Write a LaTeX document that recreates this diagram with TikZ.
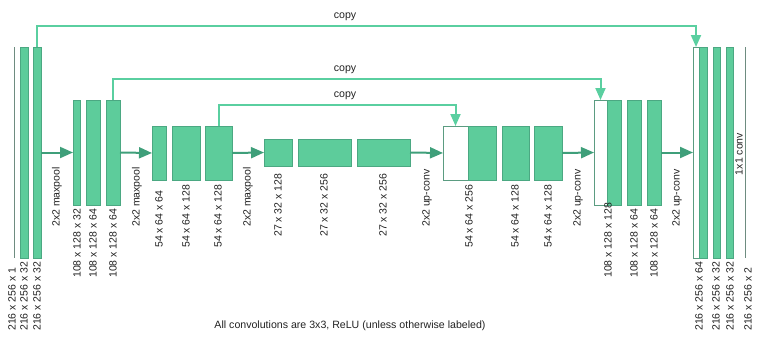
\documentclass[tikz,border=0pt]{standalone}
\usepackage{fontspec}
\setmainfont{Liberation Sans}
\usetikzlibrary{arrows.meta, positioning}
\definecolor{MapGreen}{HTML}{5DCC9B}
\definecolor{EdgeGreen}{HTML}{4BA882}
\definecolor{ArrowGreen}{HTML}{3F9F7A}
\definecolor{CopyGreen}{HTML}{5ACFA0}
\definecolor{ThinGray}{HTML}{6E8C80}
\definecolor{TextGray}{HTML}{222222}

\begin{document}
\begin{tikzpicture}[
    x=1pt, y=-1pt,
    fmap/.style={rectangle, draw=EdgeGreen, fill=MapGreen, line width=0.5pt, inner sep=0pt, outer sep=0pt, anchor=north west},
    catmap/.style={fmap, fill=white, draw=EdgeGreen!70!gray, line width=1pt},
    thinmap/.style={rectangle, fill=ThinGray, inner sep=0pt, outer sep=0pt, minimum width=1.5pt, anchor=north west},
    dimlabel/.style={rotate=90, anchor=west, inner sep=0pt, text=TextGray, font=\fontsize{10.5}{12}\selectfont},
    oplabel/.style={dimlabel},
    copylabel/.style={inner sep=0pt, text=TextGray, font=\fontsize{10.6}{12}\selectfont},
    poolarrow/.style={->, >={Triangle[length=13pt, width=11pt]}, draw=ArrowGreen, line width=2pt},
    copyarrow/.style={->, >={Triangle[length=12pt, width=10pt]}, draw=CopyGreen, line width=2pt}
]
\useasboundingbox (0,0) rectangle (759,340);

% contracting path
\node[thinmap, minimum height=211pt] (a1) at (13.5,47) {};
\node[fmap, minimum width=8pt, minimum height=211pt] (a2) at (20,47) {};
\node[fmap, minimum width=8pt, minimum height=211pt] (a3) at (33,47) {};

\node[fmap, minimum width=7pt, minimum height=105pt] (b1) at (73,100) {};
\node[fmap, minimum width=14pt, minimum height=105pt] (b2) at (86,100) {};
\node[fmap, minimum width=14pt, minimum height=105pt] (b3) at (106,100) {};

\node[fmap, minimum width=14pt, minimum height=54pt] (c1) at (152,126) {};
\node[fmap, minimum width=28pt, minimum height=54pt] (c2) at (172,126) {};
\node[fmap, minimum width=27pt, minimum height=54pt] (c3) at (205,126) {};

\node[fmap, minimum width=28pt, minimum height=27pt] (d1) at (264,139) {};
\node[fmap, minimum width=53pt, minimum height=27pt] (d2) at (298,139) {};
\node[fmap, minimum width=53pt, minimum height=27pt] (d3) at (357,139) {};

% expanding path
\node[catmap, minimum width=25pt, minimum height=54pt] (e0) at (443,126) {};
\node[fmap, minimum width=28pt, minimum height=54pt] (e1) at (468,126) {};
\node[fmap, minimum width=27pt, minimum height=54pt] (e2) at (502,126) {};
\node[fmap, minimum width=28pt, minimum height=54pt] (e3) at (534,126) {};

\node[catmap, minimum width=13pt, minimum height=105pt] (f0) at (594,100) {};
\node[fmap, minimum width=14pt, minimum height=105pt] (f1) at (607,100) {};
\node[fmap, minimum width=14pt, minimum height=105pt] (f2) at (627,100) {};
\node[fmap, minimum width=14pt, minimum height=105pt] (f3) at (647,100) {};

\node[catmap, minimum width=6pt, minimum height=211pt] (g0) at (693,47) {};
\node[fmap, minimum width=8pt, minimum height=211pt] (g1) at (699,47) {};
\node[fmap, minimum width=7pt, minimum height=211pt] (g2) at (713,47) {};
\node[fmap, minimum width=7pt, minimum height=211pt] (g3) at (726,47) {};
\node[thinmap, minimum height=211pt] (g4) at (744.5,47) {};

% size labels
\node[dimlabel] (a1l) at (12,331) {216 x 256 x 1};
\node[dimlabel] (a2l) at (24,331) {216 x 256 x 32};
\node[dimlabel] (a3l) at (37,331) {216 x 256 x 32};
\node[dimlabel] (b1l) at (77,278) {108 x 128 x 32};
\node[dimlabel] (b2l) at (93,278) {108 x 128 x 64};
\node[dimlabel] (b3l) at (113,278) {108 x 128 x 64};
\node[dimlabel] (c1l) at (159,248) {54 x 64 x 64};
\node[dimlabel] (c2l) at (186,248) {54 x 64 x 128};
\node[dimlabel] (c3l) at (218,248) {54 x 64 x 128};
\node[dimlabel] (d1l) at (278,237) {27 x 32 x 128};
\node[dimlabel] (d2l) at (324,237) {27 x 32 x 256};
\node[dimlabel] (d3l) at (383,237) {27 x 32 x 256};
\node[dimlabel] (e1l) at (469,248) {54 x 64 x 256};
\node[dimlabel] (e2l) at (515,248) {54 x 64 x 128};
\node[dimlabel] (e3l) at (548,248) {54 x 64 x 128};
\node[dimlabel] (f1l) at (608,278) {108 x 128 x 128};
\node[dimlabel] (f2l) at (634,278) {108 x 128 x 64};
\node[dimlabel] (f3l) at (654,278) {108 x 128 x 64};
\node[dimlabel] (g1l) at (699,331) {216 x 256 x 64};
\node[dimlabel] (g2l) at (716,331) {216 x 256 x 32};
\node[dimlabel] (g3l) at (730,331) {216 x 256 x 32};
\node[dimlabel] (g4l) at (748,331) {216 x 256 x 2};

% operation labels
\node[oplabel] (pool1) at (57,227) {2x2 maxpool};
\node[oplabel] (pool2) at (137,227) {2x2 maxpool};
\node[oplabel] (pool3) at (248,227) {2x2 maxpool};
\node[oplabel] (up1) at (427,227) {2x2 up-conv};
\node[oplabel] (up2) at (578,227) {2x2 up-conv};
\node[oplabel] (up3) at (677,227) {2x2 up-conv};
\node[oplabel, anchor=center] (conv1) at (739,154) {1x1 conv};

% down and up arrows
\draw[poolarrow] (a3.east) -- (b1.west);
\draw[poolarrow] (b3.east) -- (c1.west);
\draw[poolarrow] (c3.east) -- (d1.west);
\draw[poolarrow] (d3.east) -- (e0.west);
\draw[poolarrow] (e3.east) -- (f0.west);
\draw[poolarrow] (f3.east) -- (g0.west);

% skip connections
\draw[copyarrow] (a3.north) -- ++(0,-21) -| (g0.north);
\draw[copyarrow] (b3.north) -- ++(0,-21) -| (f0.north);
\draw[copyarrow] (c3.north) -- ++(0,-21) -| (e0.north);
\node[copylabel] (copy0) at (345,17) {copy};
\node[copylabel] (copy1) at (345,70) {copy};
\node[copylabel] (copy2) at (345,96) {copy};

\node[copylabel] (note) at (350,326) {All convolutions are 3x3, ReLU (unless otherwise labeled)};
\end{tikzpicture}
\end{document}
